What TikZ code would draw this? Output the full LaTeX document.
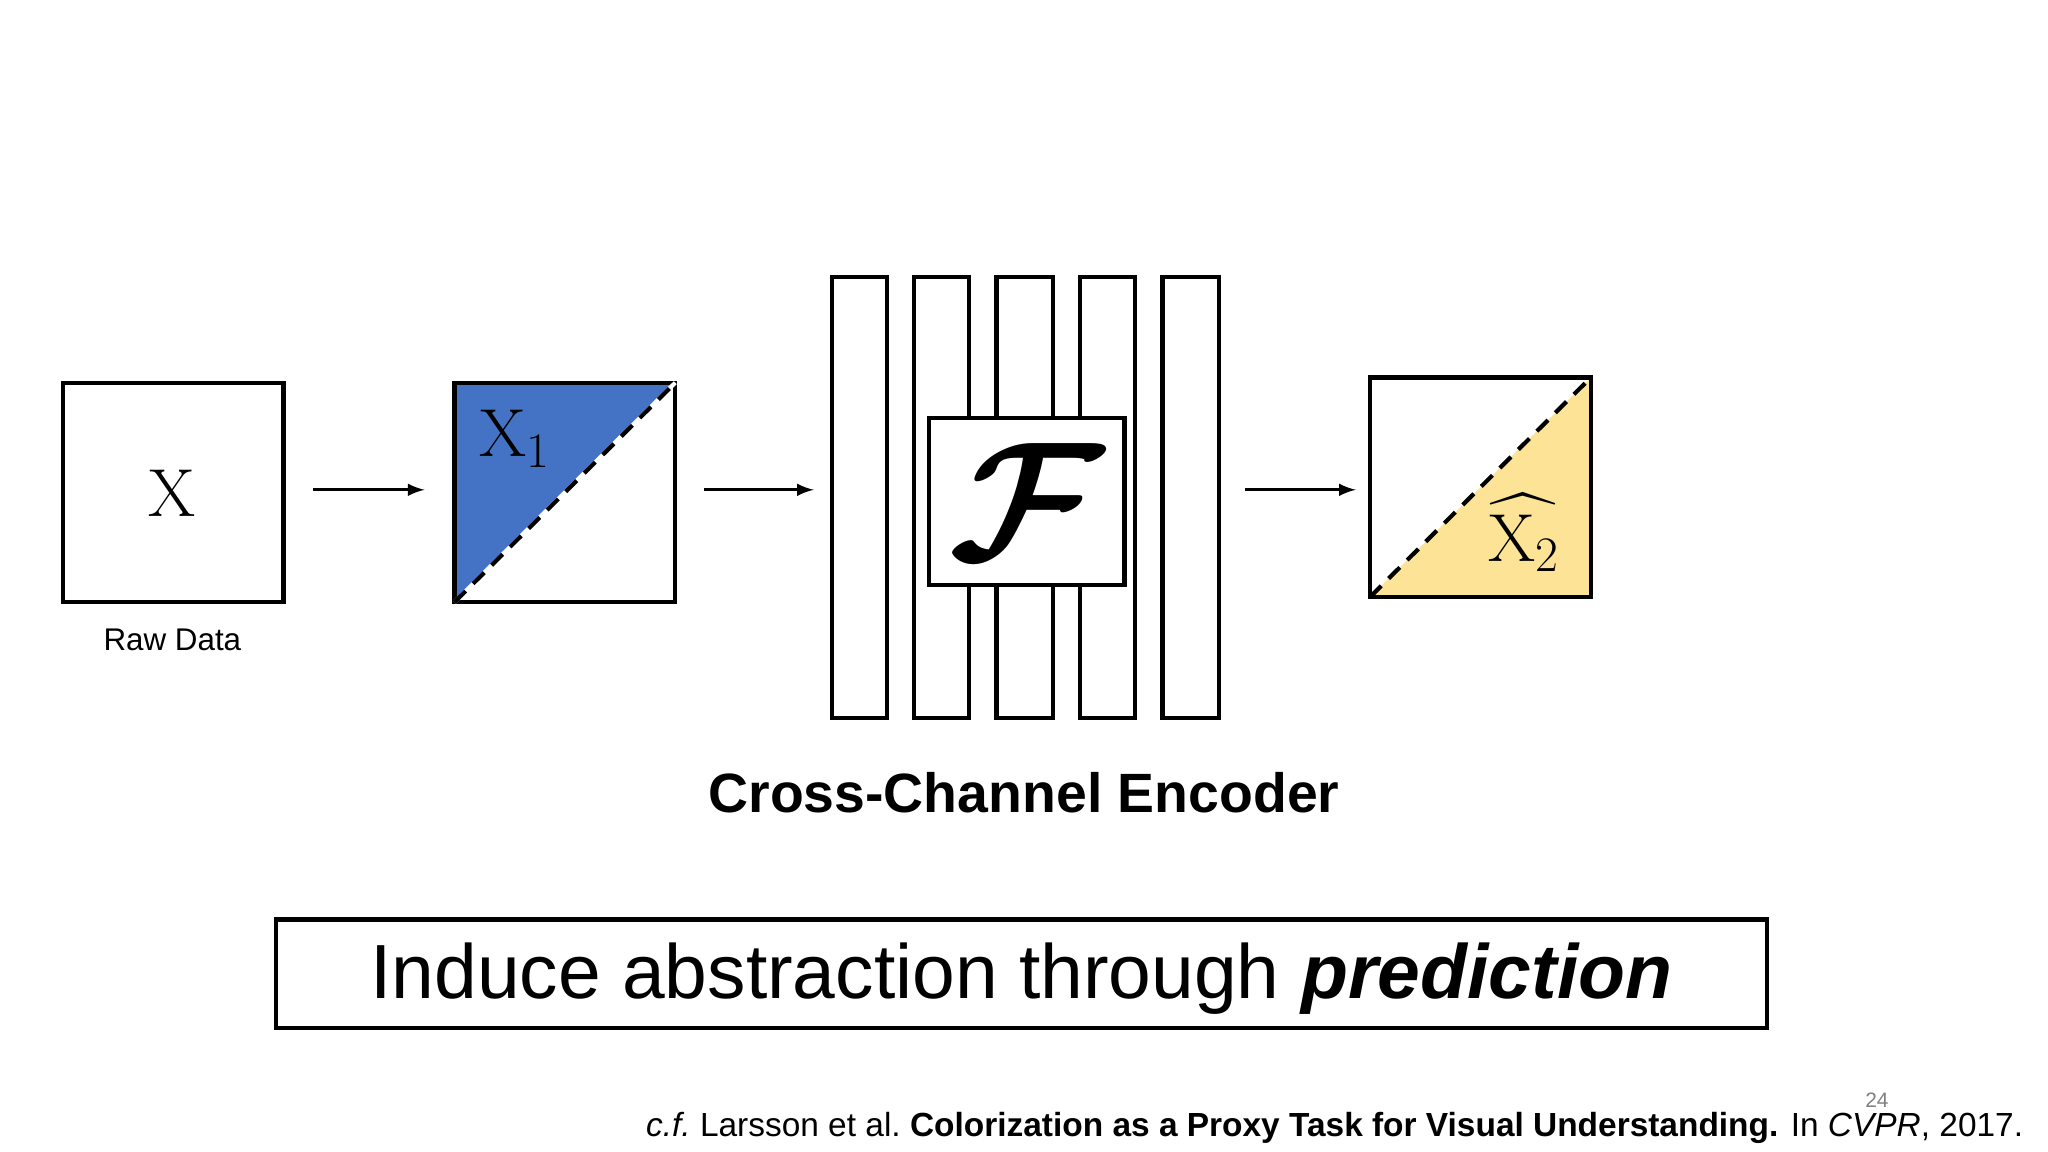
\documentclass[tikz,border=0pt]{standalone}
\usepackage{fontspec}
\usepackage{amsmath}
\usepackage{graphicx}
\newfontfamily\arial{Liberation Sans}
\definecolor{blu}{HTML}{4472C4}
\definecolor{yel}{HTML}{FDE395}
\newcommand{\mysub}[1]{\raisebox{-0.35ex}{\fontsize{19}{20}\selectfont #1}}
\begin{document}
\begin{tikzpicture}[x=0.5pt,y=-0.5pt,
  box/.style={draw=black,line width=1.6pt},
  arr/.style={-latex,line width=1.2pt},
  dia/.style={line width=1.6pt,dash pattern=on 6pt off 4pt}]
\useasboundingbox (0,0) rectangle (1568,882);
% raw
\draw[box] (48,293) rectangle (217,461);
\node (x) at (132,378) {\fontsize{26}{30}\selectfont X};
\node (raw) at (132,490) {\arial\fontsize{12}{14}\selectfont Raw Data};
\coordinate (a1s) at (240,375); \coordinate (a1e) at (325,375);
\draw[arr] (a1s) -- (a1e);
% X1
\fill[blu] (348,293) -- (517,293) -- (348,461) -- cycle;
\draw[box] (348,293) rectangle (517,461);
\draw[line width=1.6pt,white] (348,461) -- (517,293);
\draw[dia] (348,461) -- (517,293);
\node (x1) at (394,336) {\fontsize{26}{30}\selectfont X\mysub{1}};
\coordinate (a2s) at (539,375); \coordinate (a2e) at (623,375);
\draw[arr] (a2s) -- (a2e);
% bars
\foreach \a/\b in {637/679,700/742,763/806,827/869,890/933}
  \draw[box] (\a,212) rectangle (\b,550);
\draw[box,fill=white] (711,320) rectangle (861,448);
\node (f) at (786,384) {\scalebox{2.6}{\fontsize{24}{28}\selectfont $\boldsymbol{\mathcal{F}}$}};
\coordinate (a3s) at (953,375); \coordinate (a3e) at (1038,375);
\draw[arr] (a3s) -- (a3e);
% X2
\fill[yel] (1218,289) -- (1218,457) -- (1049,457) -- cycle;
\draw[box] (1049,289) rectangle (1218,457);
\draw[dia] (1049,457) -- (1218,289);
\node (x2) at (1166,408) {\fontsize{26}{30}\selectfont $\widehat{\mathrm{X}\mysub{2}}$};
\node (enc) at (784,607) {\arial\bfseries\fontsize{21.2}{24}\selectfont Cross-Channel Encoder};
\node[box,minimum width=571pt,minimum height=41.5pt] (ind) at (782,745.5) {};
\node at ([yshift=-2pt]ind.center) {\arial\fontsize{29.4}{34}\selectfont Induce abstraction through \textbf{\textit{prediction}}};
\node[anchor=base east] (cite) at (1556,870) {\arial\fontsize{12.8}{14}\selectfont \textit{c.f.}\ Larsson et al.\ \textbf{Colorization as a Proxy Task for Visual Understanding.} In \textit{CVPR}, 2017.};
\node[text=gray] (pg) at (1437,842) {\arial\fontsize{8}{9}\selectfont 24};
\end{tikzpicture}
\end{document}
